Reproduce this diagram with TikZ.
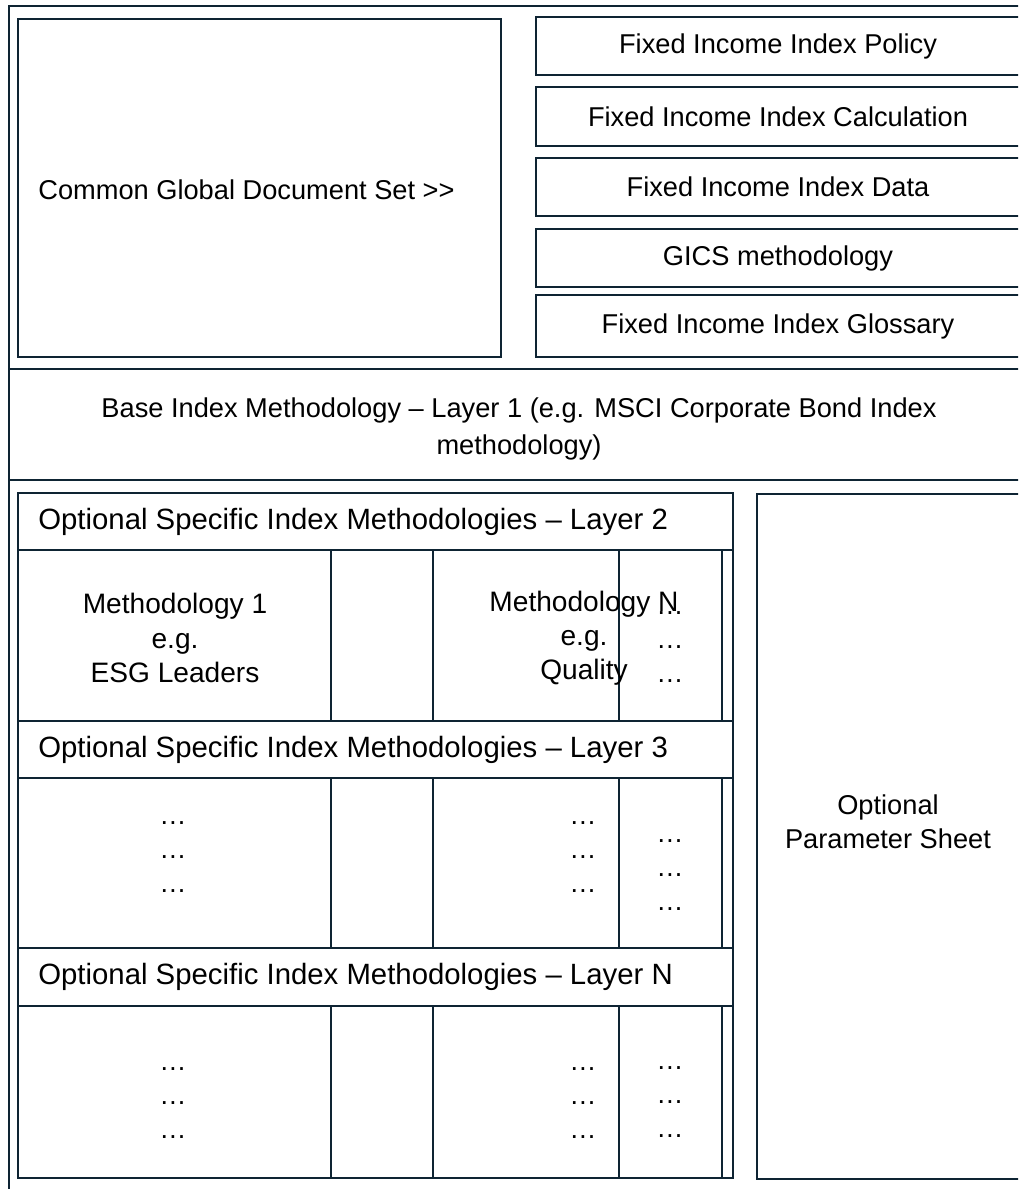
\documentclass[tikz,border=0pt]{standalone}
\usepackage{fontspec}
\setmainfont{Liberation Sans}
\definecolor{navy}{HTML}{0E2433}

\begin{document}
\begin{tikzpicture}[x=0.02cm, y=-0.02cm,
  box/.style={draw=navy, line width=1.6pt},
  thinbox/.style={draw=navy, line width=1.1pt},
  lbl/.style={font=\fontsize{15.5}{19.5}\selectfont, align=center, inner sep=0pt},
  headlbl/.style={font=\fontsize{16.7}{20}\selectfont, anchor=west, inner sep=0pt}]
\useasboundingbox (0,0) rectangle (1018,1189);
\clip (0,0) rectangle (1018,1189);

% outer frame and the two layer rules
\draw[box] (1040,6) -- (9,6) -- (9,1200);
\draw[box] (9,369) -- (1040,369);
\draw[box] (9,480) -- (1040,480);

% common global document set
\draw[box] (18,19) rectangle (501,357);
\node[lbl, anchor=west] (common) at (38,190) {Common Global Document Set >{}>};
\foreach \top/\bot/\name/\text in {17/75/policy/Fixed Income Index Policy,
    87/146/calc/Fixed Income Index Calculation, 158/216/data/Fixed Income Index Data,
    229/287/gics/GICS methodology, 295/357/gloss/Fixed Income Index Glossary}
{
  \draw[box] (536,\top) rectangle (1030,\bot);
  \node[lbl] (\name) at (778,{(\top+\bot)/2}) {\text};
}

% layer 1
\node[lbl, font=\fontsize{15.5}{21}\selectfont] (base) at (519,429) {Base Index Methodology – Layer 1 (e.g. MSCI Corporate Bond Index\\methodology)};

% layers 2 to N
\draw[box] (18,493) rectangle (733,1178);
\foreach \top/\bot/\n in {493/550/2, 721/778/3, 948/1006/N}
{
  \draw[box] (18,\top) rectangle (733,\bot);
  \node[headlbl] (head\n) at (38,{(\top+\bot)/2}) {Optional Specific Index Methodologies – Layer \n};
}
\foreach \top/\bot in {550/721, 778/948, 1006/1178}
{
  \draw[box] (18,\top) rectangle (331,\bot);
  \draw[box] (331,\top) rectangle (433,\bot);
  \draw[box] (433,\top) rectangle (722,\bot);
  \draw[thinbox] (619,\top) rectangle (722,\bot);
}
\node[lbl, font=\fontsize{16}{19.5}\selectfont] (meth1) at (175,638) {Methodology 1\\e.g.\\ESG Leaders};
\node[lbl, font=\fontsize{16}{19.5}\selectfont] (methN) at (584,638) {Methodology N\\e.g.\\Quality};
\node[lbl] (moreA) at (670,647) {…\\…\\…};
\node[lbl] (dotsA) at (173,857) {…\\…\\…};
\node[lbl] (dotsB) at (583,857) {…\\…\\…};
\node[lbl] (moreB) at (670,875) {…\\…\\…};
\node[lbl] (dotsC) at (173,1103) {…\\…\\…};
\node[lbl] (dotsD) at (583,1103) {…\\…\\…};
\node[lbl] (moreC) at (670,1102) {…\\…\\…};

% parameter sheet
\draw[box] (757,494) rectangle (1030,1179);
\node[lbl] (param) at (888,822) {Optional\\Parameter Sheet};
\end{tikzpicture}
\end{document}
